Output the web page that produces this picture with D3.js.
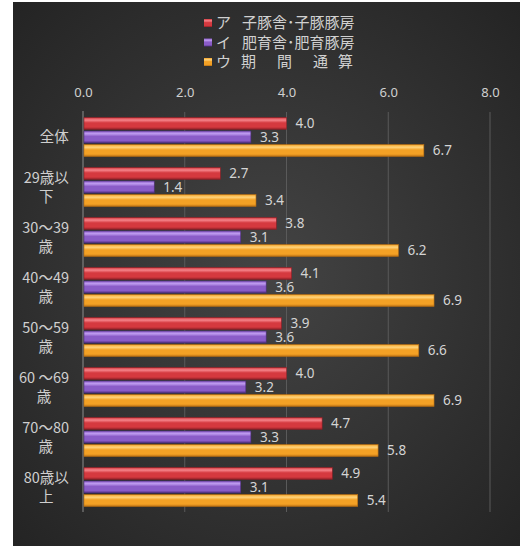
<!DOCTYPE html>
<html>
<head>
<meta charset="utf-8">
<script src="https://cdn.jsdelivr.net/npm/d3@7"></script>
<style>
  html, body { margin: 0; padding: 0; background: #ffffff; }
  svg { display: block; }
  text { font-family: "Noto Sans CJK JP", "Noto Sans", sans-serif; }
</style>
</head>
<body>
<svg id="chart" width="520" height="546"></svg>
<script>
// Age groups (line breaks inside a label are marked with "\n")
const categories = ["全体", "29歳以\n下", "30～39\n歳", "40～49\n歳", "50～59\n歳", "60 ～69\n歳", "70～80\n歳", "80歳以\n上"];
const seriesNames = ["ア　子豚舎･子豚豚房", "イ　肥育舎･肥育豚房", "ウ　期　間　通　算"];
const seriesA = [4.0, 2.7, 3.8, 4.1, 3.9, 4.0, 4.7, 4.9];
const seriesB = [3.3, 1.4, 3.1, 3.6, 3.6, 3.2, 3.3, 3.1];
const seriesC = [6.7, 3.4, 6.2, 6.9, 6.6, 6.9, 5.8, 5.4];
const xTicks = [0, 2, 4, 6, 8];

const seriesValues = [seriesA, seriesB, seriesC];
const palette = [
  { base: "#d5393f", light: "#f5848a", dark: "#8e1f26" },
  { base: "#8a5cc8", light: "#bf9cf0", dark: "#4f2f80" },
  { base: "#f3a125", light: "#ffd47c", dark: "#b86e12" }
];

const svg = d3.select("#chart");
const defs = svg.append("defs");

// dark panel with a soft centre glow
const bg = defs.append("radialGradient").attr("id", "bg")
  .attr("cx", "50%").attr("cy", "50%").attr("r", "70%");
bg.append("stop").attr("offset", "0%").attr("stop-color", "#444444");
bg.append("stop").attr("offset", "100%").attr("stop-color", "#242424");

// rounded, cylinder-like shading for each series
palette.forEach((c, i) => {
  const g = defs.append("linearGradient").attr("id", "bar" + i)
    .attr("x1", 0).attr("y1", 0).attr("x2", 0).attr("y2", 1);
  g.append("stop").attr("offset", "0%").attr("stop-color", c.base);
  g.append("stop").attr("offset", "22%").attr("stop-color", c.light);
  g.append("stop").attr("offset", "45%").attr("stop-color", c.base);
  g.append("stop").attr("offset", "80%").attr("stop-color", c.base);
  g.append("stop").attr("offset", "100%").attr("stop-color", c.dark);
});

svg.append("rect")
  .attr("x", 13).attr("y", 2).attr("width", 507).attr("height", 544)
  .attr("fill", "url(#bg)");

const x = d3.scaleLinear().domain([0, 8]).range([83, 490]);
const y = d3.scaleBand().domain(categories).range([112, 512]).paddingInner(0).paddingOuter(0);
const inner = d3.scaleBand().domain(d3.range(3)).range([0, 39]).paddingInner(0.12);

// vertical gridlines
svg.append("g")
  .selectAll("line")
  .data(xTicks.filter(t => t > 0))
  .join("line")
  .attr("x1", d => x(d)).attr("x2", d => x(d))
  .attr("y1", 112).attr("y2", 512)
  .attr("stroke", "#5a5a5a").attr("stroke-width", 1);

// value axis along the top
const xAxis = svg.append("g")
  .attr("transform", "translate(0,97)")
  .call(d3.axisTop(x).tickValues(xTicks).tickFormat(d3.format(".1f")).tickSize(0).tickPadding(0));
xAxis.select(".domain").remove();
xAxis.selectAll("text")
  .attr("fill", "#d0d0d0")
  .attr("font-size", 13)
  .attr("dy", "0")
  .style("font-family", "'Noto Sans', sans-serif");

// category axis line
svg.append("line")
  .attr("x1", x(0)).attr("x2", x(0))
  .attr("y1", 111).attr("y2", 512)
  .attr("stroke", "#8c8c8c").attr("stroke-width", 1);

// bars
const groups = svg.append("g")
  .selectAll("g")
  .data(categories)
  .join("g")
  .attr("transform", d => `translate(0,${y(d) + (y.bandwidth() - 39) / 2})`);

groups.each(function (cat, ci) {
  const g = d3.select(this);
  seriesValues.forEach((vals, si) => {
    const v = vals[ci];
    g.append("rect")
      .attr("x", x(0) + 1)
      .attr("y", inner(si))
      .attr("width", x(v) - x(0) - 1)
      .attr("height", inner.bandwidth())
      .attr("fill", `url(#bar${si})`)
      .attr("stroke", palette[si].dark)
      .attr("stroke-width", 0.6);
    g.append("text")
      .attr("x", x(v) + 9)
      .attr("y", inner(si) + inner.bandwidth() / 2)
      .attr("dy", "0.36em")
      .attr("fill", "#d4d4d4")
      .attr("font-size", 13.5)
      .style("font-family", "'Noto Sans', sans-serif")
      .text(d3.format(".1f")(v));
  });
});

// category labels: block right-aligned, lines centred within the block
const labelRight = 69;
const labelG = svg.append("g");
categories.forEach(cat => {
  const lines = cat.split("\n");
  const t = labelG.append("text")
    .attr("fill", "#cfcfcf")
    .attr("font-size", 14.5)
    .attr("text-anchor", "middle");
  const cy = y(cat) + y.bandwidth() / 2;
  const lh = 19;
  lines.forEach((ln, i) => {
    t.append("tspan")
      .attr("x", 0)
      .attr("y", cy + (i - (lines.length - 1) / 2) * lh)
      .attr("dy", "0.35em")
      .text(ln);
  });
  const w = t.node().getBBox().width;
  t.selectAll("tspan").attr("x", labelRight - w / 2);
});

// legend
const legend = svg.append("g");
seriesNames.forEach((name, i) => {
  const ly = 23 + i * 19.5;
  legend.append("rect")
    .attr("x", 204).attr("y", ly - 4).attr("width", 8).attr("height", 8)
    .attr("fill", `url(#bar${i})`);
  const parts = name.split("　");
  const t = legend.append("text")
    .attr("fill", "#d0d0d0")
    .attr("font-size", 15)
    .attr("y", ly).attr("dy", "0.35em");
  // marker letter, then the description
  const xs = i < 2 ? [216, 242] : [216, 241, 277, 313, 338];
  parts.forEach((p, j) => {
    t.append("tspan").attr("x", xs[j]).text(p);
  });
});
</script>
</body>
</html>
